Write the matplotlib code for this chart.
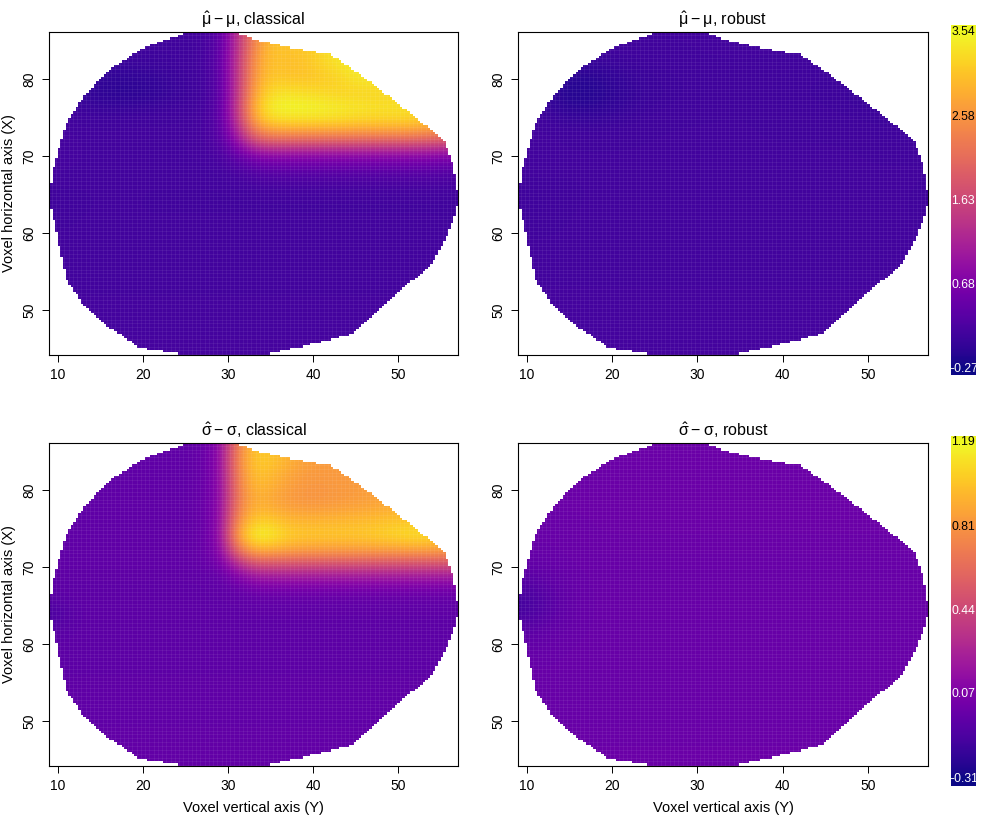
import numpy as np
import matplotlib
matplotlib.use("Agg")
import matplotlib.pyplot as plt
from matplotlib.path import Path

plt.rcParams['font.family'] = ['Liberation Sans', 'DejaVu Sans']
plt.rcParams['mathtext.fontset'] = 'custom'
plt.rcParams['mathtext.rm'] = 'Liberation Sans'
plt.rcParams['mathtext.it'] = 'DejaVu Sans'

W, H = 986, 822

# brain slice outline, voxel coordinates
outline_x = [26.1, 30, 34.2, 37.9, 42.1, 45.8, 55.3, 56.5, 57.1, 56.95, 55.8, 54.1, 51.8, 46.9, 44.7, 38.5, 34.1,
             24.9, 19.65, 15.9, 12.8, 11, 10.4, 9.65, 9.0, 9.45, 10.04, 10.8, 11.6, 13.2, 15.1, 16.9, 19.85, 22.9]
outline_y = [86.2, 86.2, 84.7, 83.8, 83.05, 80.3, 72.1, 68.6, 64.3, 63.25, 59.75, 56.1, 53.9, 49.1, 46.9, 45.2, 44.2,
             44.2, 45.1, 47.8, 51, 53.9, 57.1, 61, 64.6, 68.05, 70.4, 73.6, 75.3, 77.8, 80.1, 81.7, 83.8, 85.05]

# top row is Y=86, step 2, columns X=9..57 step 2
mu_classical = [
    [.12, .12, .12, .12, .12, .12, .12, .12, .12, .14, .33, 1.25, 2.35, 3.0, 3.05, 3.1, 3.1, 3.15, 3.2, 3.2, 3.2, 3.2, 3.2, 3.2, 3.2],
    [.10, .10, .10, .10, .10, .10, .09, .09, .10, .13, .33, 1.25, 2.45, 3.05, 3.05, 3.1, 3.25, 3.4, 3.5, 3.5, 3.45, 3.4, 3.4, 3.4, 3.4],
    [.10, .10, .08, .05, .05, .06, .07, .08, .10, .13, .33, 1.3, 2.55, 3.05, 3.0, 3.05, 3.2, 3.35, 3.45, 3.45, 3.4, 3.4, 3.4, 3.4, 3.4],
    [.10, .06, .02, -.02, -.04, -.03, .0, .04, .08, .12, .30, 1.3, 2.6, 3.1, 3.05, 3.05, 3.1, 3.2, 3.35, 3.4, 3.4, 3.35, 3.3, 3.3, 3.3],
    [.10, .06, .0, -.05, -.07, -.07, -.04, .02, .06, .11, .30, 1.3, 2.75, 3.3, 3.35, 3.3, 3.25, 3.2, 3.2, 3.2, 3.2, 3.25, 3.25, 3.2, 3.2],
    [.12, .10, .07, .05, .04, .05, .07, .09, .10, .13, .30, 1.35, 2.9, 3.5, 3.54, 3.54, 3.5, 3.45, 3.4, 3.35, 3.35, 3.35, 3.25, 3.05, 3.0],
    [.14, .13, .12, .11, .11, .12, .12, .12, .12, .15, .30, 1.2, 2.6, 3.1, 3.15, 3.15, 3.15, 3.15, 3.1, 3.1, 3.1, 3.1, 3.05, 2.9, 2.8],
    [.14, .14, .13, .13, .13, .13, .13, .13, .13, .15, .27, .85, 1.75, 2.05, 2.05, 2.05, 2.05, 2.05, 2.05, 2.05, 2.05, 2.05, 2.0, 1.95, 1.9],
    [.14, .14, .13, .13, .13, .13, .13, .13, .13, .14, .18, .38, .65, .75, .75, .75, .75, .75, .75, .75, .75, .75, .75, .7, .7],
    [.14, .13, .13, .13, .13, .13, .12, .12, .12, .12, .13, .17, .27, .32, .33, .33, .33, .33, .33, .33, .33, .33, .33, .3, .28],
    [.12, .12, .12, .12, .12, .12, .12, .12, .12, .12, .12, .13, .14, .15, .15, .15, .15, .15, .15, .15, .15, .15, .15, .15, .14],
    [.09, .10, .11, .12, .12, .12, .11, .11, .11, .11, .11, .11, .11, .11, .11, .11, .11, .11, .11, .11, .11, .11, .11, .11, .10],
    [.10, .11, .12, .12, .12, .12, .12, .12, .12, .12, .12, .12, .12, .12, .12, .12, .12, .12, .12, .12, .12, .12, .12, .12, .11],
    [.12, .12, .12, .12, .12, .12, .12, .12, .12, .12, .12, .12, .12, .12, .12, .12, .12, .12, .12, .12, .12, .12, .12, .12, .12],
    [.13, .13, .13, .13, .13, .13, .13, .13, .13, .13, .13, .13, .13, .13, .13, .13, .13, .13, .13, .13, .13, .13, .13, .13, .13],
    [.13, .13, .13, .13, .13, .13, .13, .13, .13, .13, .13, .13, .13, .13, .13, .13, .13, .13, .13, .13, .13, .13, .13, .13, .13],
    [.13, .13, .13, .13, .13, .13, .13, .13, .13, .13, .13, .13, .13, .13, .13, .13, .13, .13, .13, .13, .13, .13, .13, .13, .13],
    [.13, .13, .13, .13, .13, .13, .13, .13, .13, .13, .13, .13, .13, .13, .13, .13, .13, .13, .13, .13, .13, .13, .13, .13, .13],
    [.14, .14, .14, .14, .14, .14, .14, .14, .14, .14, .14, .14, .14, .14, .14, .14, .14, .14, .14, .14, .14, .14, .14, .14, .14],
    [.14, .14, .14, .14, .14, .14, .14, .14, .14, .14, .14, .14, .14, .14, .14, .14, .14, .14, .14, .14, .14, .14, .14, .14, .14],
    [.15, .15, .15, .15, .15, .15, .15, .15, .15, .15, .15, .15, .15, .15, .15, .15, .15, .15, .15, .15, .15, .15, .15, .15, .15],
    [.15, .15, .15, .15, .15, .15, .15, .15, .15, .15, .15, .15, .15, .15, .15, .15, .15, .15, .15, .15, .15, .15, .15, .15, .15],
]
sigma_classical = [
    [-.05, -.05, -.05, -.05, -.05, -.05, -.05, -.05, -.05, -.03, .10, .68, 1.0, 1.0, .92, .87, .85, .85, .85, .85, .85, .85, .85, .85, .85],
    [-.05, -.05, -.05, -.05, -.05, -.05, -.05, -.05, -.05, -.03, .10, .72, 1.02, 1.02, .94, .87, .85, .85, .85, .85, .85, .85, .85, .85, .85],
    [-.05, -.05, -.05, -.05, -.05, -.05, -.05, -.05, -.05, -.03, .10, .70, 1.0, .97, .89, .84, .83, .84, .84, .85, .85, .85, .85, .85, .85],
    [-.05, -.05, -.05, -.05, -.05, -.05, -.05, -.05, -.05, -.03, .09, .67, .95, .92, .85, .82, .82, .83, .84, .86, .88, .88, .88, .88, .88],
    [-.05, -.05, -.05, -.05, -.05, -.05, -.05, -.05, -.05, -.03, .09, .67, .92, .89, .84, .82, .82, .84, .85, .87, .89, .90, .90, .90, .90],
    [-.05, -.05, -.05, -.05, -.05, -.05, -.05, -.05, -.05, -.03, .10, .74, 1.02, 1.02, .95, .94, .94, .95, .96, .97, .99, 1.0, 1.0, 1.0, 1.0],
    [-.05, -.05, -.05, -.05, -.05, -.05, -.05, -.05, -.05, -.03, .10, .85, 1.19, 1.17, 1.05, 1.02, 1.02, 1.02, 1.02, 1.04, 1.07, 1.1, 1.12, 1.05, 1.0],
    [-.05, -.05, -.05, -.05, -.05, -.05, -.05, -.05, -.05, -.03, .07, .60, .90, .90, .87, .85, .85, .85, .85, .85, .85, .85, .85, .85, .85],
    [-.05, -.05, -.05, -.05, -.05, -.05, -.05, -.05, -.05, -.04, .0, .20, .40, .42, .42, .42, .42, .42, .42, .42, .42, .42, .42, .42, .42],
    [-.06, -.06, -.06, -.06, -.06, -.06, -.06, -.06, -.06, -.06, -.05, .0, .08, .10, .10, .10, .10, .10, .10, .10, .10, .10, .10, .10, .10],
    [-.07, -.06, -.06, -.06, -.06, -.06, -.06, -.06, -.06, -.06, -.06, -.06, -.04, -.04, -.04, -.04, -.04, -.04, -.04, -.04, -.04, -.04, -.04, -.04, -.04],
    [-.14, -.09, -.06, -.06, -.06, -.06, -.06, -.06, -.06, -.06, -.06, -.06, -.06, -.06, -.06, -.06, -.06, -.06, -.06, -.06, -.06, -.06, -.06, -.06, -.06],
    [-.09, -.07, -.06, -.06, -.06, -.06, -.06, -.06, -.06, -.06, -.06, -.06, -.06, -.06, -.06, -.06, -.06, -.06, -.06, -.06, -.06, -.06, -.06, -.06, -.06],
    [-.06, -.06, -.06, -.06, -.06, -.06, -.06, -.06, -.06, -.06, -.06, -.06, -.06, -.06, -.06, -.06, -.06, -.06, -.06, -.06, -.06, -.06, -.06, -.06, -.06],
    [-.06, -.06, -.06, -.06, -.06, -.06, -.06, -.06, -.06, -.06, -.06, -.06, -.06, -.06, -.06, -.06, -.06, -.06, -.06, -.06, -.06, -.06, -.06, -.06, -.06],
    [-.06, -.06, -.06, -.06, -.06, -.06, -.06, -.06, -.06, -.06, -.06, -.06, -.06, -.06, -.06, -.06, -.06, -.06, -.06, -.06, -.06, -.06, -.06, -.06, -.06],
    [-.05, -.05, -.05, -.05, -.05, -.05, -.05, -.05, -.05, -.05, -.05, -.05, -.05, -.05, -.05, -.05, -.05, -.05, -.05, -.05, -.05, -.05, -.05, -.05, -.05],
    [-.05, -.05, -.05, -.05, -.05, -.05, -.05, -.05, -.05, -.05, -.05, -.05, -.05, -.05, -.05, -.05, -.05, -.05, -.05, -.05, -.05, -.05, -.05, -.05, -.05],
    [-.05, -.05, -.05, -.05, -.05, -.05, -.05, -.05, -.05, -.05, -.05, -.05, -.05, -.05, -.05, -.05, -.05, -.05, -.05, -.05, -.05, -.05, -.05, -.05, -.05],
    [-.04, -.04, -.04, -.04, -.04, -.04, -.04, -.04, -.04, -.04, -.04, -.04, -.04, -.04, -.04, -.04, -.04, -.04, -.04, -.04, -.04, -.04, -.04, -.04, -.04],
    [-.04, -.04, -.04, -.04, -.04, -.04, -.04, -.04, -.04, -.04, -.04, -.04, -.04, -.04, -.04, -.04, -.04, -.04, -.04, -.04, -.04, -.04, -.04, -.04, -.04],
    [-.04, -.04, -.04, -.04, -.04, -.04, -.04, -.04, -.04, -.04, -.04, -.04, -.04, -.04, -.04, -.04, -.04, -.04, -.04, -.04, -.04, -.04, -.04, -.04, -.04],
]
# top row is Y=86, step 3, columns X=9..57 step 3
mu_robust = [
    [.12, .12, .12, .12, .12, .12, .12, .12, .12, .12, .12, .12, .12, .12, .12, .12, .12],
    [.12, .12, .10, .09, .10, .10, .11, .12, .12, .12, .12, .12, .12, .12, .12, .12, .12],
    [.10, .02, -.12, -.10, .0, .06, .08, .09, .11, .11, .10, .09, .08, .08, .08, .10, .10],
    [.10, .03, -.14, -.12, -.02, .05, .08, .10, .11, .11, .10, .09, .08, .06, .05, .07, .08],
    [.13, .12, .09, .08, .09, .11, .12, .12, .12, .12, .11, .11, .11, .10, .09, .08, .09],
    [.13, .13, .12, .12, .12, .12, .12, .12, .12, .12, .12, .12, .12, .12, .11, .11, .11],
    [.13, .13, .12, .12, .12, .12, .12, .12, .12, .12, .12, .12, .12, .12, .12, .12, .12],
    [.08, .10, .11, .12, .12, .12, .12, .12, .12, .12, .12, .12, .12, .12, .12, .12, .11],
    [.09, .10, .12, .12, .12, .12, .12, .12, .12, .12, .12, .12, .12, .12, .12, .12, .11],
    [.12, .12, .12, .12, .12, .12, .12, .12, .12, .12, .12, .12, .12, .12, .12, .12, .12],
    [.13, .13, .13, .13, .13, .13, .13, .13, .13, .13, .13, .13, .13, .13, .13, .13, .13],
    [.13, .13, .13, .13, .13, .13, .13, .13, .13, .13, .13, .13, .13, .13, .13, .13, .13],
    [.14, .14, .14, .14, .14, .14, .14, .14, .14, .14, .14, .14, .14, .14, .14, .14, .14],
    [.14, .14, .14, .14, .14, .14, .14, .14, .14, .14, .14, .14, .14, .14, .14, .14, .14],
    [.15, .15, .15, .15, .15, .15, .15, .15, .15, .15, .15, .15, .15, .15, .15, .15, .15],
]
sigma_robust = [
    [-.01, -.01, -.01, -.01, -.01, -.01, -.01, -.01, -.01, -.01, -.01, -.01, -.01, -.01, -.01, -.01, -.01],
    [-.01, -.01, -.01, -.01, -.01, -.01, -.01, -.01, -.01, -.01, -.01, -.01, -.01, -.01, -.01, -.01, -.01],
    [-.01, -.01, -.01, -.01, -.01, -.01, -.01, -.01, -.01, -.01, -.01, -.01, -.01, -.01, -.01, -.01, -.01],
    [-.01, -.01, -.01, -.01, -.01, -.01, -.01, -.01, -.01, -.01, -.01, -.01, -.01, -.01, -.01, -.01, -.01],
    [-.02, -.02, -.02, -.01, -.01, -.01, -.01, -.01, -.01, -.01, -.01, -.01, -.01, -.01, -.01, -.01, -.01],
    [-.03, -.03, -.02, -.02, -.02, -.02, -.02, -.02, -.02, -.02, -.02, -.02, -.02, -.02, -.02, -.02, -.02],
    [-.09, -.06, -.03, -.02, -.02, -.02, -.02, -.02, -.02, -.02, -.02, -.02, -.02, -.02, -.02, -.02, -.02],
    [-.19, -.11, -.04, -.02, -.02, -.02, -.02, -.02, -.02, -.02, -.02, -.02, -.02, -.02, -.02, -.02, -.02],
    [-.08, -.05, -.03, -.02, -.02, -.02, -.02, -.02, -.02, -.02, -.02, -.02, -.02, -.02, -.02, -.02, -.02],
    [-.03, -.03, -.02, -.02, -.02, -.02, -.02, -.02, -.02, -.02, -.02, -.02, -.02, -.02, -.02, -.02, -.02],
    [-.02, -.02, -.02, -.02, -.02, -.02, -.02, -.02, -.02, -.02, -.02, -.02, -.02, -.02, -.02, -.02, -.02],
    [-.02, -.02, -.02, -.02, -.02, -.02, -.02, -.02, -.02, -.02, -.02, -.02, -.02, -.02, -.02, -.02, -.02],
    [-.02, -.02, -.02, -.02, -.02, -.02, -.02, -.02, -.02, -.02, -.02, -.02, -.02, -.02, -.02, -.02, -.02],
    [-.01, -.01, -.01, -.01, -.01, -.01, -.01, -.01, -.01, -.01, -.01, -.01, -.01, -.01, -.01, -.01, -.01],
    [-.01, -.01, -.01, -.01, -.01, -.01, -.01, -.01, -.01, -.01, -.01, -.01, -.01, -.01, -.01, -.01, -.01],
]

mu_ticks = [3.54, 2.58, 1.63, 0.68, -0.27]
sigma_ticks = [1.19, 0.81, 0.44, 0.07, -0.31]
mu_labels = ['3.54', '2.58', '1.63', '0.68', '\u22120.27']
sigma_labels = ['1.19', '0.81', '0.44', '0.07', '\u22120.31']

titles = [r'$\hat{\mathrm{\mu}} - \mathrm{\mu}$, classical', r'$\hat{\mathrm{\mu}} - \mathrm{\mu}$, robust',
          r'$\hat{\mathrm{\sigma}} - \mathrm{\sigma}$, classical', r'$\hat{\mathrm{\sigma}} - \mathrm{\sigma}$, robust']
xticks = [10, 20, 30, 40, 50]
yticks = [50, 60, 70, 80]

fig = plt.figure(figsize=(W / 100, H / 100), dpi=100)

# seams between image cells, and a finer raster for the stepped edge of the slice
seam_x = np.arange(8.75, 57.5, 0.5)
seam_y = np.arange(43.75, 86.5, 0.5)
cell_x = np.arange(8.5, 57.6, 0.3)
cell_y = np.arange(43.6, 86.6, 0.3)


def pixel_axes(left, top, right, bottom):
    return fig.add_axes([left / W, 1 - bottom / H, (right - left) / W, (bottom - top) / H])


def draw_panel(box, values, step, title, vmin, vmax, xlabel, ylabel):
    ax = pixel_axes(*box)
    ax.imshow(values, cmap='plasma', vmin=vmin, vmax=vmax, origin='upper', aspect='auto',
              interpolation='bicubic', extent=(9 - step / 2, 57 + step / 2, 44 - step / 2, 86 + step / 2))

    ax.vlines(seam_x, 43, 87, color='white', lw=0.5, alpha=0.09, zorder=2.1)
    ax.hlines(seam_y, 8, 58, color='white', lw=0.5, alpha=0.09, zorder=2.1)

    # white cover over everything outside the slice
    cx, cy = np.meshgrid((cell_x[:-1] + cell_x[1:]) / 2, (cell_y[:-1] + cell_y[1:]) / 2)
    inside = Path(np.c_[outline_x, outline_y]).contains_points(np.c_[cx.ravel(), cy.ravel()]).reshape(cx.shape)
    cover = np.ones(inside.shape + (4,))
    cover[..., 3] = ~inside
    ax.imshow(cover, origin='lower', aspect='auto', interpolation='nearest', zorder=2.2,
              extent=(cell_x[0], cell_x[-1], cell_y[0], cell_y[-1]))

    ax.set_xlim(8.95, 57.05)
    ax.set_ylim(44.15, 86.1)
    ax.set_xticks(xticks)
    ax.set_yticks(yticks)
    ax.tick_params(length=5, width=0.7, labelsize=10, pad=4)
    for lab in ax.get_yticklabels():
        lab.set_rotation(90)
        lab.set_va('center')
    for s in ax.spines.values():
        s.set_linewidth(0.8)
    ax.set_title(title, fontsize=11.5, pad=5)
    if xlabel:
        ax.set_xlabel('Voxel vertical axis (Y)', fontsize=10.5, labelpad=6)
    if ylabel:
        ax.set_ylabel('Voxel horizontal axis (X)', fontsize=10.5, labelpad=5)


def draw_bar(box, ticks, labels, vmin, vmax, px_top, px_bottom):
    ax = pixel_axes(*box)
    scale = (ticks[0] - ticks[-1]) / (px_bottom - px_top)
    hi = ticks[0] + (px_top - box[1]) * scale
    lo = ticks[-1] - (box[3] - px_bottom) * scale
    gradient = np.linspace(hi, lo, 256).reshape(-1, 1)
    ax.imshow(gradient, cmap='plasma', vmin=vmin, vmax=vmax, aspect='auto', extent=(0, 1, lo, hi))
    ax.set_ylim(lo, hi)
    for t, lab in zip(ticks, labels):
        col = 'black' if t > ticks[2] else 'white'
        ax.text(0.5, t, lab, color=col, fontsize=8.7, ha='center', va='center')
    ax.axis('off')


draw_panel((49, 32, 458, 355), mu_classical, 2, titles[0], -0.27, 3.54, False, True)
draw_panel((518, 32, 928, 355), mu_robust, 3, titles[1], -0.27, 3.54, False, False)
draw_panel((49, 443, 458, 766), sigma_classical, 2, titles[2], -0.31, 1.19, True, True)
draw_panel((518, 443, 928, 766), sigma_robust, 3, titles[3], -0.31, 1.19, True, False)

draw_bar((951, 25, 975, 375), mu_ticks, mu_labels, -0.27, 3.54, 32, 369)
draw_bar((951, 436, 975, 786), sigma_ticks, sigma_labels, -0.31, 1.19, 442, 779)

fig.savefig('out.png', dpi=100)
